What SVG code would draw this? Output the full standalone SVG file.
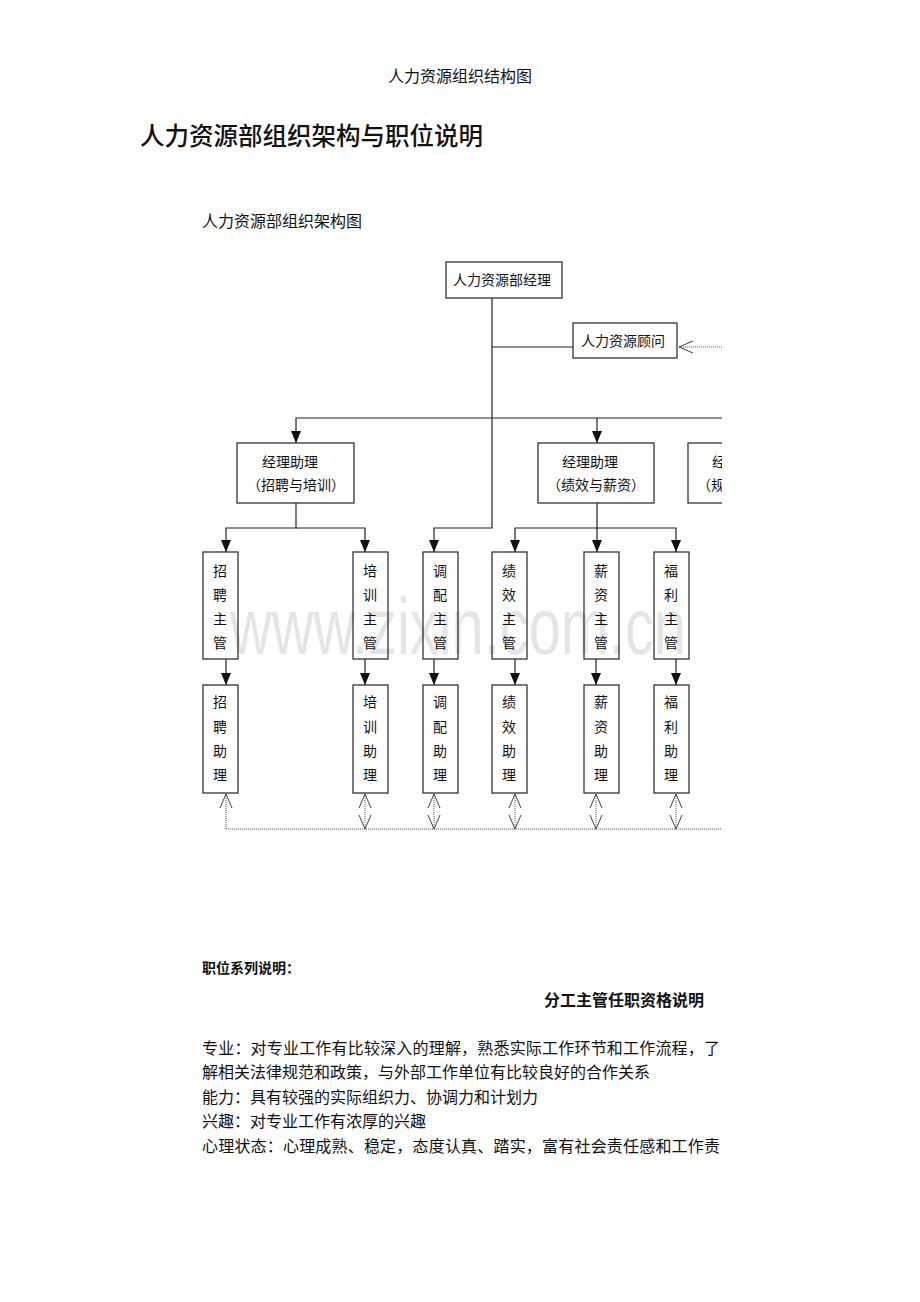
<svg xmlns="http://www.w3.org/2000/svg" width="920" height="1302" viewBox="0 0 920 1302">
<style>
.serif{font-family:"Liberation Serif","Noto Sans CJK SC",serif;fill:#111}
.sans{font-family:"Noto Sans CJK SC",sans-serif;fill:#111}
.box{fill:#fff;stroke:#333;stroke-width:1.3}
.lbl{font-family:"Noto Sans CJK SC",sans-serif;font-size:14px;fill:#111;text-anchor:middle}
.ln{fill:none;stroke:#222;stroke-width:1.2}
.dot{fill:none;stroke:#555;stroke-width:1;stroke-dasharray:1,1}
</style>
<defs>
<marker id="fa" viewBox="0 0 12 10" refX="12" refY="5" markerWidth="12" markerHeight="10" markerUnits="userSpaceOnUse" orient="auto">
<path d="M0,0 L12,5 L0,10 z" fill="#111"/>
</marker>
<marker id="oa" viewBox="-1 -1 16 14" refX="14" refY="6" markerWidth="16" markerHeight="14" markerUnits="userSpaceOnUse" orient="auto-start-reverse">
<path d="M0,0 L14,6 L0,12" fill="none" stroke="#444" stroke-width="1"/>
</marker>
<clipPath id="clip"><rect x="0" y="0" width="722" height="1302"/></clipPath>
</defs>
<rect width="920" height="1302" fill="#fff"/>

<text class="serif" x="460" y="82" font-size="16" text-anchor="middle">人力资源组织结构图</text>
<text class="sans" x="140" y="145" font-size="24.5" font-weight="500">人力资源部组织架构与职位说明</text>
<text class="serif" x="202" y="227" font-size="16">人力资源部组织架构图</text>

<g id="connectors">
<path class="ln" d="M492,298 V528 H434 V552" marker-end="url(#fa)"/>
<path class="ln" d="M492,347 H573"/>
<path class="ln" d="M722,418 H296 V443" marker-end="url(#fa)"/>
<path class="ln" d="M597,418 V443" marker-end="url(#fa)"/>
<path class="ln" d="M296,503 V528 H226 V552" marker-end="url(#fa)"/>
<path class="ln" d="M296,528 H365 V552" marker-end="url(#fa)"/>
<path class="ln" d="M597,503 V528 H515 V552" marker-end="url(#fa)"/>
<path class="ln" d="M597,528 V552" marker-end="url(#fa)"/>
<path class="ln" d="M597,528 H676 V552" marker-end="url(#fa)"/>
<path class="ln" d="M226,659 V685" marker-end="url(#fa)"/>
<path class="ln" d="M365,659 V685" marker-end="url(#fa)"/>
<path class="ln" d="M434,659 V685" marker-end="url(#fa)"/>
<path class="ln" d="M515,659 V685" marker-end="url(#fa)"/>
<path class="ln" d="M596,659 V685" marker-end="url(#fa)"/>
<path class="ln" d="M676,659 V685" marker-end="url(#fa)"/>
<path class="dot" d="M722,347 H679" marker-end="url(#oa)"/>
<path class="dot" d="M226,829 V794" marker-end="url(#oa)"/>
<path class="dot" d="M226,829 H722"/>
<path class="dot" d="M365,794 V829" marker-start="url(#oa)" marker-end="url(#oa)"/>
<path class="dot" d="M434,794 V829" marker-start="url(#oa)" marker-end="url(#oa)"/>
<path class="dot" d="M515,794 V829" marker-start="url(#oa)" marker-end="url(#oa)"/>
<path class="dot" d="M596,794 V829" marker-start="url(#oa)" marker-end="url(#oa)"/>
<path class="dot" d="M676,794 V829" marker-start="url(#oa)" marker-end="url(#oa)"/>
</g>

<g id="n-manager">
<rect class="box" x="446" y="262" width="116" height="36"/>
<text class="lbl" x="502" y="285">人力资源部经理</text>
</g>
<g id="n-consultant">
<rect class="box" x="573" y="323" width="104" height="35"/>
<text class="lbl" x="623" y="346">人力资源顾问</text>
</g>
<g id="n-asst1">
<rect class="box" x="237" y="443" width="117" height="60"/>
<text class="lbl" x="262" y="467" style="text-anchor:start">经理助理</text>
<text class="lbl" x="296" y="490">（招聘与培训）</text>
</g>
<g id="n-asst2">
<rect class="box" x="538" y="443" width="116" height="60"/>
<text class="lbl" x="562" y="467" style="text-anchor:start">经理助理</text>
<text class="lbl" x="596" y="490">（绩效与薪资）</text>
</g>
<g id="n-asst3" clip-path="url(#clip)">
<rect class="box" x="688" y="443" width="116" height="60"/>
<text class="lbl" x="712" y="467" style="text-anchor:start">经</text>
<text class="lbl" x="697" y="490" style="text-anchor:start">（规</text>
</g>

<g id="n-zp-sup"><rect class="box" x="203" y="552" width="35" height="107"/>
<text class="lbl" x="220" y="576">招</text><text class="lbl" x="220" y="600">聘</text><text class="lbl" x="220" y="624">主</text><text class="lbl" x="220" y="648">管</text></g>
<g id="n-px-sup"><rect class="box" x="353" y="552" width="35" height="107"/>
<text class="lbl" x="370" y="576">培</text><text class="lbl" x="370" y="600">训</text><text class="lbl" x="370" y="624">主</text><text class="lbl" x="370" y="648">管</text></g>
<g id="n-dp-sup"><rect class="box" x="423" y="552" width="35" height="107"/>
<text class="lbl" x="440" y="576">调</text><text class="lbl" x="440" y="600">配</text><text class="lbl" x="440" y="624">主</text><text class="lbl" x="440" y="648">管</text></g>
<g id="n-jx-sup"><rect class="box" x="492" y="552" width="35" height="107"/>
<text class="lbl" x="509" y="576">绩</text><text class="lbl" x="509" y="600">效</text><text class="lbl" x="509" y="624">主</text><text class="lbl" x="509" y="648">管</text></g>
<g id="n-xz-sup"><rect class="box" x="584" y="552" width="35" height="107"/>
<text class="lbl" x="601" y="576">薪</text><text class="lbl" x="601" y="600">资</text><text class="lbl" x="601" y="624">主</text><text class="lbl" x="601" y="648">管</text></g>
<g id="n-fl-sup"><rect class="box" x="654" y="552" width="35" height="107"/>
<text class="lbl" x="671" y="576">福</text><text class="lbl" x="671" y="600">利</text><text class="lbl" x="671" y="624">主</text><text class="lbl" x="671" y="648">管</text></g>

<g id="n-zp-ast"><rect class="box" x="203" y="685" width="35" height="108"/>
<text class="lbl" x="220" y="707">招</text><text class="lbl" x="220" y="732">聘</text><text class="lbl" x="220" y="756">助</text><text class="lbl" x="220" y="780">理</text></g>
<g id="n-px-ast"><rect class="box" x="353" y="685" width="35" height="108"/>
<text class="lbl" x="370" y="707">培</text><text class="lbl" x="370" y="732">训</text><text class="lbl" x="370" y="756">助</text><text class="lbl" x="370" y="780">理</text></g>
<g id="n-dp-ast"><rect class="box" x="423" y="685" width="35" height="108"/>
<text class="lbl" x="440" y="707">调</text><text class="lbl" x="440" y="732">配</text><text class="lbl" x="440" y="756">助</text><text class="lbl" x="440" y="780">理</text></g>
<g id="n-jx-ast"><rect class="box" x="492" y="685" width="35" height="108"/>
<text class="lbl" x="509" y="707">绩</text><text class="lbl" x="509" y="732">效</text><text class="lbl" x="509" y="756">助</text><text class="lbl" x="509" y="780">理</text></g>
<g id="n-xz-ast"><rect class="box" x="584" y="685" width="35" height="108"/>
<text class="lbl" x="601" y="707">薪</text><text class="lbl" x="601" y="732">资</text><text class="lbl" x="601" y="756">助</text><text class="lbl" x="601" y="780">理</text></g>
<g id="n-fl-ast"><rect class="box" x="654" y="685" width="35" height="108"/>
<text class="lbl" x="671" y="707">福</text><text class="lbl" x="671" y="732">利</text><text class="lbl" x="671" y="756">助</text><text class="lbl" x="671" y="780">理</text></g>

<text x="230" y="654" font-family="Liberation Sans, sans-serif" font-size="80" fill="#000" fill-opacity="0.1" textLength="456" lengthAdjust="spacingAndGlyphs">www.zixin.com.cn</text>

<text class="sans" x="202" y="973" font-size="14" font-weight="bold">职位系列说明：</text>
<text class="sans" x="544" y="1006" font-size="16" font-weight="bold">分工主管任职资格说明</text>
<text class="serif" x="202" y="1054" font-size="16" textLength="518">专业：对专业工作有比较深入的理解，熟悉实际工作环节和工作流程，了</text>
<text class="serif" x="202" y="1078" font-size="16">解相关法律规范和政策，与外部工作单位有比较良好的合作关系</text>
<text class="serif" x="202" y="1103" font-size="16">能力：具有较强的实际组织力、协调力和计划力</text>
<text class="serif" x="202" y="1127" font-size="16">兴趣：对专业工作有浓厚的兴趣</text>
<text class="serif" x="202" y="1152" font-size="16" textLength="518">心理状态：心理成熟、稳定，态度认真、踏实，富有社会责任感和工作责</text>
</svg>
